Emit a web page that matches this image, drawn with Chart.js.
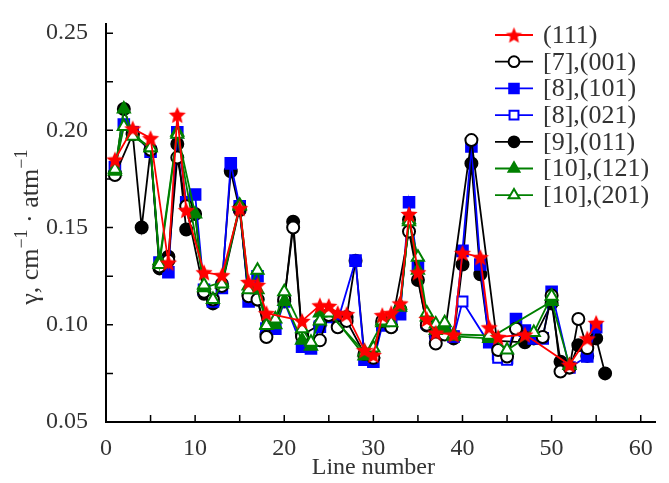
<!DOCTYPE html>
<html>
<head>
<meta charset="utf-8">
<script src="https://cdn.jsdelivr.net/npm/chart.js@4/dist/chart.umd.min.js"></script>
<style>
  html, body { margin: 0; background: #fff; }
</style>
</head>
<body>
<canvas id="chart" width="669" height="483"></canvas>
<script>
const lineNo = [1, 2, 3, 4, 5, 6, 7, 8, 9, 10, 11, 12, 13, 14, 15, 16, 17, 18, 19, 20,
  21, 22, 23, 24, 25, 26, 27, 28, 29, 30, 31, 32, 33, 34, 35, 36, 37, 38, 39, 40,
  41, 42, 43, 44, 45, 46, 47, 48, 49, 50, 51, 52, 53, 54, 55, 56]

// one value per line number, null where the band has no measurement
const band111 = [0.185, null, 0.201, null, 0.196, null, 0.132, 0.208, 0.159, null,
  0.127, null, 0.1255, null, 0.160, 0.122, 0.1205, 0.106, null, null,
  null, 0.102, null, 0.110, 0.1097, 0.106, 0.1055, null, 0.087, 0.0845,
  0.105, 0.106, 0.111, 0.157, 0.127, 0.103, 0.096, null, 0.095, 0.137,
  null, 0.1348, 0.0987, 0.0937, null, null, 0.095, null, null, null,
  null, 0.0795, null, 0.093, 0.101, null]

const ref7_001 = [0.177, null, 0.198, null, 0.190, 0.130, 0.133, 0.186, 0.161, null,
  0.117, 0.113, 0.120, null, 0.160, 0.1147, 0.113, 0.0937, null, 0.113,
  0.150, 0.094, null, 0.092, 0.105, 0.0987, 0.102, null, 0.085, 0.083,
  0.102, 0.0987, null, 0.148, null, 0.100, 0.0904, 0.095, null, null,
  0.195, null, null, 0.087, 0.0837, 0.098, null, null, 0.0937, 0.115,
  0.076, 0.078, 0.103, 0.088, null, null]

const ref8_101 = [0.181, 0.203, 0.199, null, 0.189, 0.132, 0.127, 0.199, 0.163, 0.167,
  0.118, 0.112, 0.119, 0.183, 0.161, 0.112, 0.125, 0.098, 0.098, 0.112,
  null, 0.0887, 0.0878, 0.099, 0.104, 0.102, null, 0.133, 0.082, 0.081,
  0.0997, 0.100, 0.1054, 0.163, 0.1306, 0.101, 0.093, 0.097, 0.094, 0.138,
  0.1917, 0.131, 0.091, 0.085, 0.0828, 0.103, 0.097, 0.093, 0.093, 0.117,
  null, 0.078, null, 0.0837, 0.0987, null]

const ref8_021 = [null, null, null, null, null, null, null, null, null, null,
  null, null, null, null, null, null, null, null, null, null,
  null, null, null, null, null, null, null, null, null, null,
  null, null, null, null, null, null, null, null, 0.094, 0.112,
  null, null, null, 0.083, 0.082, null, null, null, null, null,
  null, null, null, null, null, null]

const ref9_011 = [0.178, 0.211, 0.198, 0.150, 0.190, 0.129, 0.135, 0.193, 0.149, 0.157,
  0.116, 0.111, 0.121, 0.179, 0.159, 0.115, 0.113, 0.095, null, 0.112,
  0.153, 0.0947, null, 0.100, 0.105, 0.104, 0.104, 0.133, 0.084, 0.083,
  0.101, 0.099, 0.108, 0.154, 0.123, 0.0996, 0.094, 0.096, 0.093, 0.131,
  0.183, 0.126, 0.092, null, null, null, 0.091, 0.093, null, 0.111,
  0.081, 0.078, 0.0895, 0.084, 0.093, 0.075]

const ref10_121 = [0.179, 0.211, 0.198, null, 0.191, 0.133, null, 0.199, null, 0.157,
  0.119, null, 0.122, null, 0.1615, 0.120, 0.118, 0.100, 0.100, 0.112,
  null, 0.092, 0.089, 0.106, 0.107, null, null, null, 0.084, null,
  0.101, null, 0.109, 0.154, 0.128, 0.104, 0.097, 0.098, 0.094, null,
  null, null, 0.093, null, null, null, null, null, null, 0.112,
  null, 0.079, null, null, null, null]

const ref10_201 = [0.180, 0.202, 0.197, null, 0.191, 0.131, null, 0.198, null, null,
  0.1205, 0.113, 0.121, null, 0.161, 0.118, 0.128, 0.0996, 0.103, 0.117,
  null, 0.098, 0.091, 0.102, 0.106, null, null, null, 0.086, 0.088,
  0.102, 0.101, 0.110, 0.153, 0.1348, 0.106, 0.1004, 0.101, 0.095, null,
  null, null, 0.0946, null, 0.087, null, null, 0.096, null, 0.1147,
  null, null, null, null, null, null]

const legendLabels = ['(111)', '[7],(001)', '[8],(101)', '[8],(021)', '[9],(011)', '[10],(121)', '[10],(201)']

const yTicks = [0.05, 0.10, 0.15, 0.20, 0.25]
const xTicks = [0, 10, 20, 30, 40, 50, 60]

const serif = '"Liberation Serif", serif'
const textColor = '#333'

function starImage(R) {
  const size = Math.ceil(2 * R + 4)
  const c = document.createElement('canvas')
  c.width = c.height = size
  const g = c.getContext('2d')
  g.translate(size / 2, size / 2 + R * 0.1)
  g.beginPath()
  for (let i = 0; i < 10; i++) {
    const r = i % 2 ? R * 0.45 : R
    const a = -Math.PI / 2 + i * Math.PI / 5
    g.lineTo(r * Math.cos(a), r * Math.sin(a))
  }
  g.closePath()
  g.fillStyle = '#ff0000'
  g.fill()
  return c
}

const starBig = starImage(9)
const starSmall = starImage(8.5)

const points = values => lineNo.map((n, i) => ({ x: n, y: values[i] }))

function series(label, values, color, style, radius, filled, order) {
  return {
    label,
    data: points(values),
    borderColor: color,
    backgroundColor: color,
    borderWidth: 1.8,
    pointStyle: style,
    pointRadius: radius,
    pointBorderColor: color,
    pointBackgroundColor: filled ? color : '#fff',
    pointBorderWidth: 2,
    spanGaps: true,
    order
  }
}

const datasets = [
  series(legendLabels[0], band111, '#ff0000', starBig, 9, true, 0),
  series(legendLabels[1], ref7_001, '#000000', 'circle', 6, false, 3),
  series(legendLabels[2], ref8_101, '#0000ff', 'rect', 7.5, true, 5),
  series(legendLabels[3], ref8_021, '#0000ff', 'rect', 7, false, 4),
  series(legendLabels[4], ref9_011, '#000000', 'circle', 6, true, 6),
  series(legendLabels[5], ref10_121, '#008000', 'triangle', 7, true, 2),
  series(legendLabels[6], ref10_201, '#008000', 'triangle', 7, false, 1)
]

function drawMarker(ctx, ds, x, y, scale) {
  const style = ds.pointStyle === starBig ? starSmall : ds.pointStyle
  ctx.save()
  ctx.fillStyle = ds.pointBackgroundColor
  ctx.strokeStyle = ds.pointBorderColor
  ctx.lineWidth = 2
  Chart.helpers.drawPoint(ctx, {
    pointStyle: style,
    radius: ds.pointRadius * scale,
    rotation: 0,
    borderWidth: 2
  }, x, y)
  ctx.restore()
}

const overlay = {
  id: 'overlay',
  beforeDatasetsDraw(chart) {
    const { ctx, scales: { x, y } } = chart
    ctx.save()
    ctx.strokeStyle = '#000'
    ctx.lineWidth = 1.5
    ctx.beginPath()
    x.ticks.forEach(t => {
      const px = x.getPixelForValue(t.value)
      ctx.moveTo(px, y.bottom)
      ctx.lineTo(px, y.bottom - 7)
    })
    y.ticks.forEach(t => {
      const py = y.getPixelForValue(t.value)
      ctx.moveTo(x.left, py)
      ctx.lineTo(x.left + 7, py)
    })
    ctx.stroke()
    ctx.restore()
  },
  afterDraw(chart) {
    const { ctx, scales: { x, y } } = chart
    ctx.save()
    ctx.fillStyle = textColor

    // x title
    ctx.font = `24px ${serif}`
    ctx.textAlign = 'center'
    ctx.textBaseline = 'alphabetic'
    ctx.fillText('Line number', x.getPixelForValue(30), 474)

    // y title with superscripts
    ctx.translate(38, (y.top + y.bottom) / 2 + 4)
    ctx.rotate(-Math.PI / 2)
    const parts = [['γ, cm', 26, 0], ['−1', 18, -11], [' · atm', 26, 0], ['−1', 18, -11]]
    let total = 0
    parts.forEach(p => { ctx.font = `${p[1]}px ${serif}`; total += ctx.measureText(p[0]).width })
    let cx = -total / 2
    ctx.textAlign = 'left'
    parts.forEach(p => {
      ctx.font = `${p[1]}px ${serif}`
      ctx.fillText(p[0], cx, p[2])
      cx += ctx.measureText(p[0]).width
    })
    ctx.restore()

    // legend
    ctx.save()
    chart.data.datasets.forEach((ds, i) => {
      const ly = 35 + i * 26.7
      ctx.strokeStyle = ds.borderColor
      ctx.lineWidth = 1.8
      ctx.beginPath()
      ctx.moveTo(495, ly)
      ctx.lineTo(533, ly)
      ctx.stroke()
      drawMarker(ctx, ds, 514, ly, 0.9)
      ctx.fillStyle = textColor
      ctx.font = `26px ${serif}`
      ctx.textAlign = 'left'
      ctx.textBaseline = 'middle'
      ctx.fillText(ds.label, 543, ly + 1)
    })
    ctx.restore()
  }
}

function draw() {
  new Chart(document.getElementById('chart'), {
    type: 'line',
    data: { datasets },
    options: {
      responsive: false,
      animation: false,
      layout: { padding: { top: 15, right: 14, left: 0, bottom: 0 } },
      plugins: {
        legend: { display: false },
        tooltip: { enabled: false }
      },
      scales: {
        x: {
          type: 'linear',
          min: 0,
          max: 61.6,
          grid: { display: false },
          border: { display: true, color: '#000', width: 2 },
          ticks: {
            stepSize: 5,
            includeBounds: false,
            autoSkip: false,
            maxRotation: 0,
            padding: 4,
            color: textColor,
            font: { family: serif, size: 24 },
            callback: v => xTicks.includes(v) ? String(v) : ''
          },
          afterFit: s => { s.height = 61 }
        },
        y: {
          min: 0.05,
          max: 0.2545,
          grid: { display: false },
          border: { display: true, color: '#000', width: 2 },
          ticks: {
            stepSize: 0.025,
            includeBounds: false,
            autoSkip: false,
            padding: 10,
            color: textColor,
            font: { family: serif, size: 24 },
            callback: v => {
              const hit = yTicks.find(t => Math.abs(t - v) < 1e-6)
              return hit !== undefined ? hit.toFixed(2) : ''
            }
          },
          afterFit: s => { s.width = 106 }
        }
      }
    },
    plugins: [overlay]
  })
}

document.fonts.load('24px "Liberation Serif"').then(draw, draw)
</script>
</body>
</html>
